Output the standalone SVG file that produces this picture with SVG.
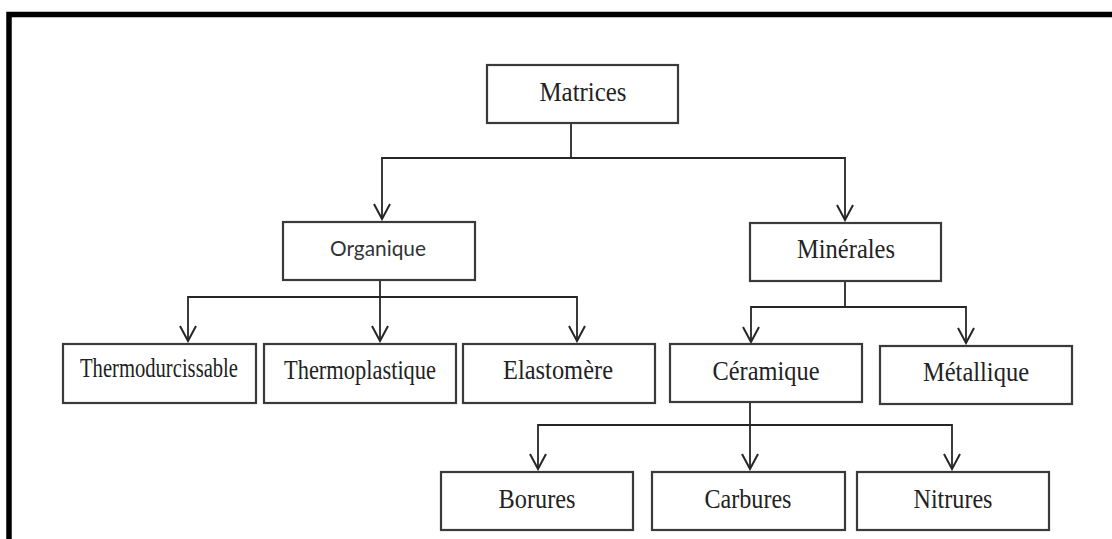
<svg xmlns="http://www.w3.org/2000/svg" width="1112" height="539" viewBox="0 0 1112 539">
<defs>
<style>
.box{fill:#fff;stroke:#3a3a3a;stroke-width:2.2}
.t{font-family:"Liberation Serif","Times New Roman",serif;font-size:27px;fill:#222;text-anchor:middle}
.s{font-family:Lato,"Open Sans","Liberation Sans",sans-serif;font-size:21px;fill:#333;text-anchor:middle}
.c{fill:none;stroke:#262626;stroke-width:1.8}
</style>
<marker id="arr" viewBox="-17 -10 19 20" markerWidth="19" markerHeight="20" refX="0" refY="0" orient="auto" markerUnits="userSpaceOnUse">
<path d="M-15,-8 L0,0 L-15,8" fill="none" stroke="#262626" stroke-width="2"/>
</marker>
</defs>
<rect width="1112" height="539" fill="#fff"/>
<path d="M9,539 V14.5 H1112" fill="none" stroke="#000" stroke-width="5.5" stroke-linejoin="miter"/>
<g id="connectors">
<path class="c" d="M571,123 V158"/>
<path class="c" d="M571,158 H382 V219" marker-end="url(#arr)"/>
<path class="c" d="M571,158 H845 V220" marker-end="url(#arr)"/>
<path class="c" d="M380,280 V341" marker-end="url(#arr)"/>
<path class="c" d="M380,297 H188 V341" marker-end="url(#arr)"/>
<path class="c" d="M380,297 H577 V341" marker-end="url(#arr)"/>
<path class="c" d="M845,281 V307"/>
<path class="c" d="M845,307 H751 V342" marker-end="url(#arr)"/>
<path class="c" d="M845,307 H966 V343" marker-end="url(#arr)"/>
<path class="c" d="M750,402 V469" marker-end="url(#arr)"/>
<path class="c" d="M750,425 H538 V469" marker-end="url(#arr)"/>
<path class="c" d="M750,425 H952 V469" marker-end="url(#arr)"/>
</g>
<g id="matrices"><rect class="box" x="487" y="65" width="191" height="58"/><text class="t" x="583" y="101" textLength="87" lengthAdjust="spacingAndGlyphs">Matrices</text></g>
<g id="organique"><rect class="box" x="283" y="222" width="192" height="58"/><text class="s" x="378" y="256" textLength="96" lengthAdjust="spacingAndGlyphs">Organique</text></g>
<g id="minerales"><rect class="box" x="750" y="223" width="191" height="58"/><text class="t" x="846" y="258" textLength="98" lengthAdjust="spacingAndGlyphs">Minérales</text></g>
<g id="thermodurcissable"><rect class="box" x="63" y="344" width="193" height="59"/><text class="t" x="159" y="377" font-size="25" textLength="158" lengthAdjust="spacingAndGlyphs">Thermodurcissable</text></g>
<g id="thermoplastique"><rect class="box" x="264" y="344" width="192" height="59"/><text class="t" x="360" y="379" textLength="152" lengthAdjust="spacingAndGlyphs">Thermoplastique</text></g>
<g id="elastomere"><rect class="box" x="463" y="344" width="192" height="59"/><text class="t" x="558" y="379" textLength="110" lengthAdjust="spacingAndGlyphs">Elastomère</text></g>
<g id="ceramique"><rect class="box" x="670" y="344" width="192" height="58"/><text class="t" x="766" y="380" textLength="107" lengthAdjust="spacingAndGlyphs">Céramique</text></g>
<g id="metallique"><rect class="box" x="880" y="346" width="192" height="58"/><text class="t" x="976" y="381" textLength="106" lengthAdjust="spacingAndGlyphs">Métallique</text></g>
<g id="borures"><rect class="box" x="441" y="472" width="192" height="58"/><text class="t" x="537" y="508" textLength="77" lengthAdjust="spacingAndGlyphs">Borures</text></g>
<g id="carbures"><rect class="box" x="652" y="472" width="193" height="58"/><text class="t" x="748" y="508" textLength="87" lengthAdjust="spacingAndGlyphs">Carbures</text></g>
<g id="nitrures"><rect class="box" x="857" y="472" width="192" height="58"/><text class="t" x="953" y="508" textLength="79" lengthAdjust="spacingAndGlyphs">Nitrures</text></g>
</svg>
